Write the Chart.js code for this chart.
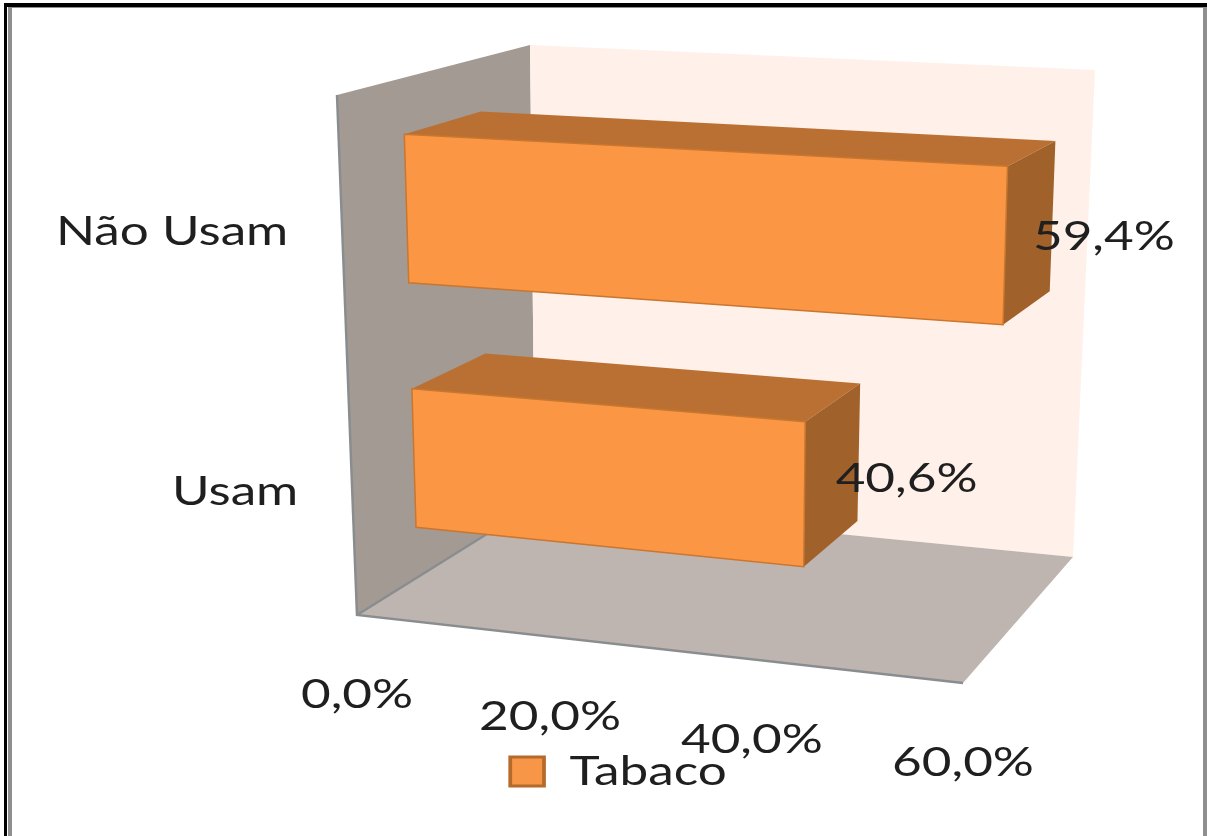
<!DOCTYPE html>
<html>
<head>
<meta charset="utf-8">
<title>Tabaco</title>
<style>
  body { margin: 0; background: #fff; overflow: hidden; }
  #wrap { position: relative; width: 1207px; height: 836px; overflow: hidden; }
  #canvas { position: absolute; left: 0; top: 0; }
  /* double rule round the slide */
  .rule { position: absolute; box-sizing: border-box; pointer-events: none; }
  #outer { left: 4px; top: 3px; width: 1230px; height: 860px; border: 3px solid #000; border-top-width: 4px; }
  #inner { left: 8px; top: 7px; width: 1199px; height: 860px; border: 4px solid #8f8f8f; border-top-width: 1px; border-bottom: 0; }
</style>
<script src="https://cdn.jsdelivr.net/npm/chart.js@4"></script>
</head>
<body>
<div id="wrap">
  <canvas id="canvas" width="1207" height="836"></canvas>
  <div class="rule" id="outer"></div>
  <div class="rule" id="inner"></div>
</div>
<script>
let categories = ['Não Usam', 'Usam'];
let tabaco = [59.4, 40.6];
let value_labels = ['59,4%', '40,6%'];
let tick_values = [0, 20, 40, 60];
let tick_labels = ['0,0%', '20,0%', '40,0%', '60,0%'];

// corners of the 3d box: front and back, bottom and top
let box = {
  fb0: [357, 615], fb1: [963, 683],
  bb0: [535, 504], bb1: [1073, 557],
  ft0: [337, 95],  ft1: [975, 125],
  bt0: [530, 45],  bt1: [1095, 70]
};
let bar_depth = [0.34, 0.74];
let text_font = '41px Lato';
let text_color = '#1f1f1f';
let stretch = 1.25;

let lerp = function(a, b, t) {
  return [a[0] + (b[0] - a[0]) * t, a[1] + (b[1] - a[1]) * t];
};

// foreshortening along an edge of the box
let warp = function(t, k) {
  return k * t / (1 - t + k * t);
};

let project = function(u, v, w) {
  u = warp(u, 0.935);
  v = warp(v, 1.07);
  let top = lerp(lerp(box.ft0, box.ft1, u), lerp(box.bt0, box.bt1, u), w);
  let bottom = lerp(lerp(box.fb0, box.fb1, u), lerp(box.bb0, box.bb1, u), w);
  return lerp(top, bottom, v);
};

let poly = function(ctx, points, fill, stroke) {
  ctx.beginPath();
  points.forEach(function(p, i) {
    if (i === 0) ctx.moveTo(p[0], p[1]);
    else ctx.lineTo(p[0], p[1]);
  });
  ctx.closePath();
  ctx.fillStyle = fill;
  ctx.fill();
  if (stroke) {
    ctx.strokeStyle = stroke;
    ctx.lineWidth = 1.5;
    ctx.stroke();
  }
};

let wideText = function(ctx, text, x, y, align) {
  ctx.save();
  ctx.translate(x, y);
  ctx.scale(stretch, 1);
  ctx.font = text_font;
  ctx.fillStyle = text_color;
  ctx.textAlign = align;
  ctx.textBaseline = 'middle';
  ctx.fillText(text, 0, 0);
  ctx.restore();
};

let bars3d = {
  id: 'bars3d',
  afterLayout: function(chart) {
    // the legend text is as wide as the rest of the labels
    let legend = chart.legend;
    if (legend.stretched) return;
    legend.stretched = true;
    let draw = legend.draw;
    legend.draw = function() {
      let ctx = chart.ctx;
      let cx = chart.width / 2;
      ctx.save();
      ctx.translate(cx + 15, 0);
      ctx.scale(stretch, 1);
      ctx.translate(-cx, 0);
      draw.call(legend);
      ctx.restore();
    };
  },
  beforeDatasetsDraw: function(chart) {
    let ctx = chart.ctx;
    let area = chart.chartArea;
    let xs = chart.scales.x;
    let ys = chart.scales.y;
    let toU = function(px) { return (px - area.left) / area.width; };
    let toV = function(py) { return (py - area.top) / area.height; };

    // walls and floor
    poly(ctx, [project(0, 0, 0), project(0, 0, 1), project(0, 1, 1), project(0, 1, 0)], '#a39a94');
    poly(ctx, [project(0, 0, 1), project(1, 0, 1), project(1, 1, 1), project(0, 1, 1)], '#fff0e9');
    poly(ctx, [project(0, 1, 0), project(0, 1, 1), project(1, 1, 1), project(1, 1, 0)], '#bfb5b0');

    ctx.strokeStyle = '#8a8d90';
    ctx.lineWidth = 2.5;
    ctx.beginPath();
    let a = project(0, 0, 0), b = project(0, 1, 0), c = project(1, 1, 0), d = project(0, 1, 1);
    ctx.moveTo(a[0], a[1]);
    ctx.lineTo(b[0], b[1]);
    ctx.lineTo(c[0], c[1]);
    ctx.moveTo(b[0], b[1]);
    ctx.lineTo(d[0], d[1]);
    ctx.stroke();

    // bars: element geometry comes from the chart's own scales
    let meta = chart.getDatasetMeta(0);
    let w0 = bar_depth[0], w1 = bar_depth[1];
    meta.data.forEach(function(el, i) {
      let props = el.getProps(['x', 'y', 'base', 'height'], true);
      let u0 = toU(props.base), u1 = toU(props.x);
      let v0 = toV(props.y - props.height / 2), v1 = toV(props.y + props.height / 2);
      poly(ctx, [project(u0, v0, w0), project(u0, v0, w1), project(u1, v0, w1), project(u1, v0, w0)], '#bb7033');
      poly(ctx, [project(u1, v0, w0), project(u1, v0, w1), project(u1, v1, w1), project(u1, v1, w0)], '#a0612b');
      poly(ctx, [project(u0, v0, w0), project(u1, v0, w0), project(u1, v1, w0), project(u0, v1, w0)], '#fb9744', '#c9762f');

      let end = project(u1, toV(props.y), (w0 + w1) / 2);
      wideText(ctx, value_labels[i], end[0] + 4, end[1] + 5, 'left');

      let side = project(0, toV(ys.getPixelForValue(i)), 0);
      wideText(ctx, categories[i], side[0] - 54, side[1], 'right');
    });

    xs.ticks.forEach(function(tick) {
      let p = project(toU(xs.getPixelForValue(tick.value)), 1, 0);
      wideText(ctx, tick.label, p[0], p[1] + 80, 'center');
    });

    return false;
  }
};

let ctx = document.getElementById('canvas').getContext('2d');

window.my_chart = new Chart(ctx, {
  type: 'bar',
  data: {
    labels: categories,
    datasets: [
      {
        label: 'Tabaco',
        data: tabaco,
        backgroundColor: '#f79646',
        borderColor: '#b5692b',
        borderWidth: 3,
        barPercentage: 0.575,
        categoryPercentage: 1
      }
    ]
  },
  options: {
    indexAxis: 'y',
    responsive: false,
    animation: false,
    layout: { padding: { bottom: 34 } },
    scales: {
      x: {
        display: false,
        min: 0,
        max: 60,
        ticks: {
          stepSize: 20,
          callback: function(value) { return tick_labels[tick_values.indexOf(value)]; }
        }
      },
      y: { display: false }
    },
    plugins: {
      tooltip: { enabled: false },
      legend: {
        position: 'bottom',
        labels: {
          boxWidth: 27,
          boxHeight: 29,
          padding: 10,
          color: text_color,
          font: { family: 'Lato', size: 41 }
        }
      }
    }
  },
  plugins: [bars3d]
});
</script>
</body>
</html>
